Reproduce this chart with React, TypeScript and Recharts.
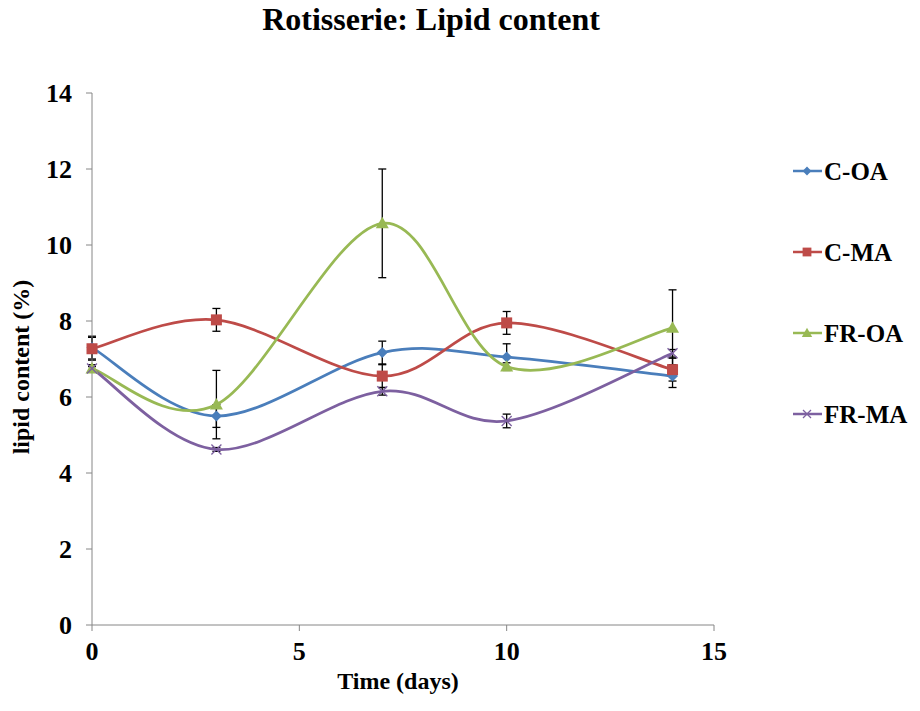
import React from 'react';
import { ErrorBar, Line, LineChart, XAxis, YAxis } from 'recharts';

// sampling days
const days = [0, 3, 7, 10, 14];

// lipid content (%) per treatment
const cOA = [7.3, 5.5, 7.17, 7.05, 6.55];
const cMA = [7.27, 8.03, 6.55, 7.95, 6.72];
const frOA = [6.75, 5.8, 10.57, 6.8, 7.82];
const frMA = [6.75, 4.62, 6.15, 5.37, 7.15];

// standard deviations
const cOAErr = [0.3, 0.3, 0.3, 0.35, 0.3];
const cMAErr = [0.3, 0.3, 0.3, 0.3, 0.3];
const frOAErr = [0.1, 0.9, 1.43, 0.1, 1.0];
const frMAErr = [0.05, 0.05, 0.1, 0.18, 0.1];

const xTicks = [0, 5, 10, 15];
const yTicks = [0, 2, 4, 6, 8, 10, 12, 14];

const data = days.map((d, i) => ({
  day: d,
  cOA: cOA[i], cOAErr: cOAErr[i],
  cMA: cMA[i], cMAErr: cMAErr[i],
  frOA: frOA[i], frOAErr: frOAErr[i],
  frMA: frMA[i], frMAErr: frMAErr[i],
}));

const FONT = '"Liberation Serif", "Times New Roman", serif';
const AXIS = '#868686';

// Excel-style smoothed line (uniform Catmull-Rom as bezier)
function excelCurve(context: any) {
  let pts: number[][] = [];
  return {
    areaStart() {},
    areaEnd() {},
    lineStart() { pts = []; },
    point(x: number, y: number) { pts.push([+x, +y]); },
    lineEnd() {
      if (!pts.length) return;
      context.moveTo(pts[0][0], pts[0][1]);
      for (let i = 0; i < pts.length - 1; i++) {
        const p0 = pts[i - 1] || pts[i];
        const p1 = pts[i];
        const p2 = pts[i + 1];
        const p3 = pts[i + 2] || p2;
        context.bezierCurveTo(
          p1[0] + (p2[0] - p0[0]) / 6, p1[1] + (p2[1] - p0[1]) / 6,
          p2[0] - (p3[0] - p1[0]) / 6, p2[1] - (p3[1] - p1[1]) / 6,
          p2[0], p2[1],
        );
      }
    },
  };
}

type Shape = 'diamond' | 'square' | 'triangle' | 'x';

function Marker({ shape, cx, cy, color, s = 1 }: { shape: Shape; cx: number; cy: number; color: string; s?: number }) {
  if (shape === 'diamond') {
    const r = 5.5 * s;
    return <polygon points={`${cx},${cy - r} ${cx + r},${cy} ${cx},${cy + r} ${cx - r},${cy}`} fill={color} />;
  }
  if (shape === 'square') {
    const r = 5.5 * s;
    return <rect x={cx - r} y={cy - r} width={2 * r} height={2 * r} fill={color} />;
  }
  if (shape === 'triangle') {
    const r = 6.5 * s;
    return <polygon points={`${cx},${cy - r} ${cx + r},${cy + r * 0.75} ${cx - r},${cy + r * 0.75}`} fill={color} />;
  }
  const r = 5 * s;
  return (
    <g stroke={color} strokeWidth={1.3}>
      <line x1={cx - r} y1={cy - r} x2={cx + r} y2={cy + r} />
      <line x1={cx - r} y1={cy + r} x2={cx + r} y2={cy - r} />
    </g>
  );
}

const series: { key: string; name: string; color: string; shape: Shape }[] = [
  { key: 'cOA', name: 'C-OA', color: '#4A7EBB', shape: 'diamond' },
  { key: 'cMA', name: 'C-MA', color: '#BE4B48', shape: 'square' },
  { key: 'frOA', name: 'FR-OA', color: '#98B954', shape: 'triangle' },
  { key: 'frMA', name: 'FR-MA', color: '#7D60A0', shape: 'x' },
];

function ChartLegend() {
  return (
    <svg width={130} height={300} style={{ position: 'absolute', left: 790, top: 140, overflow: 'visible' }}>
      {series.map((s, i) => {
        const y = 31 + i * 81;
        return (
          <g key={s.key}>
            <line x1={3} y1={y} x2={32} y2={y} stroke={s.color} strokeWidth={2.5} />
            <Marker shape={s.shape} cx={17} cy={y} color={s.color} s={0.8} />
            <text x={34} y={y + 9} fontFamily={FONT} fontWeight="bold" fontSize={25} fill="#000">{s.name}</text>
          </g>
        );
      })}
    </svg>
  );
}

export default function App() {
  return (
    <div style={{ position: 'absolute', left: 0, top: 0, width: 920, height: 711, background: '#fff' }}>
      <div style={{ position: 'absolute', left: 0, width: 862, top: 0, lineHeight: '38px', textAlign: 'center', fontFamily: FONT, fontWeight: 'bold', fontSize: 32, color: '#000' }}>
        Rotisserie: Lipid content
      </div>
      <LineChart width={920} height={711} data={data} margin={{ top: 93, right: 206, bottom: 26, left: 0 }}>
        <XAxis
          dataKey="day"
          type="number"
          domain={[0, 15]}
          ticks={xTicks}
          interval={0}
          height={60}
          stroke={AXIS}
          tickSize={6}
          tick={{ fill: '#000', fontFamily: FONT, fontWeight: 'bold', fontSize: 26, dy: 9 }}
          label={{ value: 'Time (days)', position: 'insideBottom', offset: -4, dx: -5, fill: '#000', fontFamily: FONT, fontWeight: 'bold', fontSize: 24 }}
        />
        <YAxis
          type="number"
          domain={[0, 14]}
          ticks={yTicks}
          interval={0}
          width={92}
          stroke={AXIS}
          tickSize={6}
          tick={{ fill: '#000', fontFamily: FONT, fontWeight: 'bold', fontSize: 26, dx: -12 }}
          label={{ value: 'lipid content (%)', angle: -90, position: 'insideLeft', offset: 20, dy: 8, fill: '#000', fontFamily: FONT, fontWeight: 'bold', fontSize: 24, style: { textAnchor: 'middle' } }}
        />
        {series.map((s) => (
          <Line
            key={s.key}
            dataKey={s.key}
            name={s.name}
            type={excelCurve as any}
            stroke={s.color}
            strokeWidth={2.75}
            isAnimationActive={false}
            dot={(p: any) => <Marker key={`${s.key}-${p.index}`} shape={s.shape} cx={p.cx} cy={p.cy} color={s.color} />}
            activeDot={false}
          >
            <ErrorBar dataKey={`${s.key}Err`} direction="y" width={4} stroke="#000" strokeWidth={1.3} />
          </Line>
        ))}
      </LineChart>
      <ChartLegend />
    </div>
  );
}
